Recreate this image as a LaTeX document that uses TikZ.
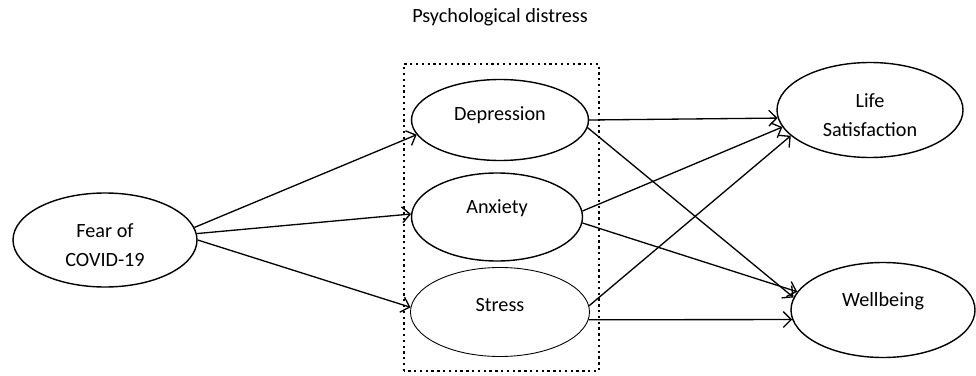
\documentclass[tikz,border=0pt]{standalone}
\usepackage{fontspec}
\setmainfont{Carlito}
\usetikzlibrary{shapes.geometric,arrows.meta}
\tikzset{
  construct/.style={draw, ellipse, line width=0.8pt, inner sep=0pt, align=center,
    font=\fontsize{11.5}{16.5}\selectfont},
  oneline/.style={text depth=#1},
  oneline/.default=12pt,
  twoline/.style={text height=30pt},
  path/.style={draw, line width=0.75pt, -{Straight Barb[length=4.5pt,width=9pt]}}
}
\begin{document}
\begin{tikzpicture}
\useasboundingbox (0,0) rectangle (19.52,7.5);
\begin{scope}
\node[construct, twoline, minimum width=3.68cm, minimum height=1.88cm] (fear) at (2.10,2.70) {Fear of\\COVID-19};
\node[construct, oneline=7.5pt, minimum width=3.54cm, minimum height=1.62cm] (dep) at (10.0,5.10) {Depression};
\node[construct, oneline, minimum width=3.42cm, minimum height=1.76cm] (anx) at (9.94,3.16) {Anxiety};
\node[construct, oneline=8.5pt, line width=0.5pt, minimum width=3.58cm, minimum height=1.78cm] (str) at (10.0,1.26) {Stress};
\node[construct, twoline, minimum width=3.72cm, minimum height=1.90cm] (life) at (17.40,5.30) {Life\\Satisfaction};
\node[construct, oneline, minimum width=3.68cm, minimum height=1.90cm] (well) at (17.66,1.30) {Wellbeing};

\node[font=\fontsize{11.5}{14}\selectfont] (title) at (10.0,7.16) {Psychological distress};
\draw[dotted, line width=1.3pt] (8.08,0.08) rectangle (11.98,6.22);

\path[path] (fear.8) -- (dep.190);
\path[path] (fear.4) -- (anx.178);
\path[path] (fear.0) -- (str.177);

\path[path] (dep.0) -- (life.185);
\path[path] (dep.-5) -- (well.172);
\path[path] (anx.4) -- (life.191);
\path[path] (anx.-4) -- (well.168);
\path[path] (str.4) -- (life.198);
\path[path] (str.-5) -- (well.186);
\end{scope}
\end{tikzpicture}
\end{document}
